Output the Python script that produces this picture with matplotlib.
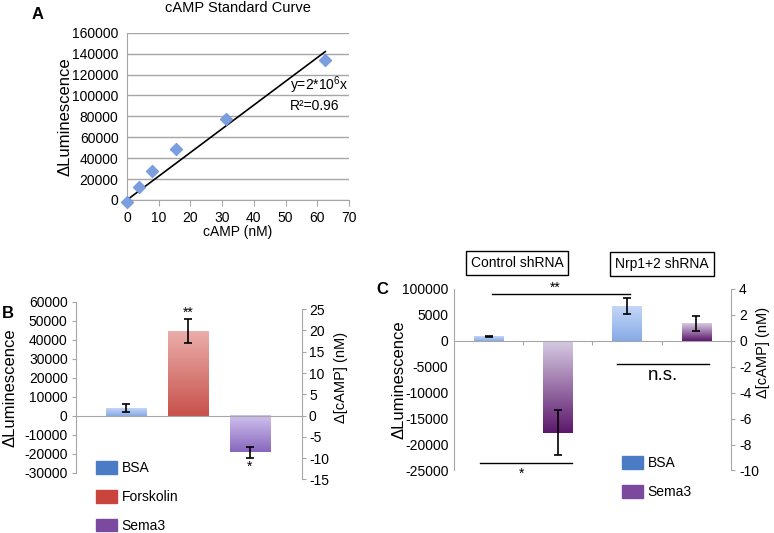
import numpy as np
import matplotlib
matplotlib.use('Agg')
import matplotlib.pyplot as plt
from matplotlib.colors import LinearSegmentedColormap
from matplotlib.patches import Patch

plt.rcParams['font.family'] = 'Liberation Sans'
plt.rcParams['mathtext.fontset'] = 'custom'
plt.rcParams['mathtext.rm'] = 'Liberation Sans'
plt.rcParams['axes.unicode_minus'] = False

# --- panel A: standard curve
std_conc = [0, 3.9, 7.8, 15.6, 31.25, 62.5]
std_lum = [-1500, 12000, 28000, 49000, 77500, 134000]
fit_slope = 2270
a_xticks = [0, 10, 20, 30, 40, 50, 60, 70]
a_yticks = [0, 20000, 40000, 60000, 80000, 100000, 120000, 140000, 160000]

# --- panel B
b_labels = ['BSA', 'Forskolin', 'Sema3']
b_means = [4000, 44600, -19300]
b_errs = [2000, 6300, 3000]
b_stars = ['', '**', '*']
b_left_ticks = [-30000, -20000, -10000, 0, 10000, 20000, 30000, 40000, 50000, 60000]
b_right_ticks = [-15, -10, -5, 0, 5, 10, 15, 20, 25]

# --- panel C
c_groups = ['Control shRNA', 'Nrp1+2 shRNA']
c_treat = ['BSA', 'Sema3', 'BSA', 'Sema3']
c_means = [900, -17700, 6700, 3400]
c_errs = [120, 4350, 1600, 1450]
c_left_ticks = [-25000, -20000, -15000, -10000, -5000, 0, 5000, 10000]
c_left_labels = ['-25000', '-20000', '-15000', '-10000', '-5000', '0', '5000', '100000']
c_right_ticks = [-10, -8, -6, -4, -2, 0, 2, 4]

GRAY = '#a6a6a6'
grads = {
    'BSA': ('#c3d7f6', '#86aae6'),
    'Forskolin': ('#eaaeab', '#c8514b'),
    'Sema3B': ('#d0c2ee', '#8867bd'),
    'Sema3C': ('#d6cbe2', '#5c176c'),
}
legend_cols = {'BSA': '#4a7bc4', 'Forskolin': '#c9443c', 'Sema3': '#7b4a9e'}


def gradient_bars(ax, bars, keys):
    for rect, key in zip(bars, keys):
        top, bottom = grads[key]
        x, y, w, h = rect.get_x(), rect.get_y(), rect.get_width(), rect.get_height()
        cmap = LinearSegmentedColormap.from_list('g', [bottom, top])
        grad = np.linspace(0, 1, 256).reshape(-1, 1)
        ax.imshow(grad, extent=[x, x + w, min(y, y + h), max(y, y + h)],
                  origin='lower', cmap=cmap, aspect='auto', zorder=1)
        rect.set_visible(False)


fig = plt.figure(figsize=(7.74, 5.33), dpi=100)

# ================= A =================
axA = fig.add_axes([0.164, 0.6248, 0.287, 0.3139])
axA.scatter(std_conc, std_lum, marker='D', s=42, color='#7b9ede',
            edgecolor='#6d91d8', linewidth=0.5, zorder=3, clip_on=False)
xfit = np.array([0, std_conc[-1]])
axA.plot(xfit, fit_slope * xfit, color='black', lw=1.2, zorder=2)
axA.set_xlim(0, 70)
axA.set_ylim(0, 160000)
axA.set_xticks(a_xticks)
axA.set_yticks(a_yticks)
axA.yaxis.grid(True, color=GRAY, lw=1)
axA.set_axisbelow(True)
for s in ['top', 'right']:
    axA.spines[s].set_visible(False)
for s in ['left', 'bottom']:
    axA.spines[s].set_color(GRAY)
axA.tick_params(axis='x', length=4, color=GRAY, labelsize=10, pad=4)
axA.tick_params(axis='y', length=0, labelsize=10, pad=6)
axA.set_xlabel('cAMP (nM)', fontsize=10, labelpad=0)
axA.set_ylabel('ΔLuminescence', fontsize=12)
axA.yaxis.set_label_coords(-0.243, 0.5)
axA.set_title('cAMP Standard Curve', fontsize=10.5, pad=15)
axA.text(0.995, 0.685, r'y=2*10$^{\mathregular{6}}$x', transform=axA.transAxes,
         ha='right', va='center', fontsize=10)
axA.text(0.955, 0.56, 'R²=0.96', transform=axA.transAxes,
         ha='right', va='center', fontsize=10)
fig.text(0.049, 0.972, 'A', fontsize=12, fontweight='bold', ha='center', va='center')

# ================= B =================
axB = fig.add_axes([0.0982, 0.1131, 0.292, 0.3208])
xb = np.arange(len(b_labels))
barsB = axB.bar(xb, b_means, width=0.65)
gradient_bars(axB, barsB, ['BSA', 'Forskolin', 'Sema3B'])
axB.errorbar(xb, b_means, yerr=b_errs, fmt='none', ecolor='black',
             elinewidth=1.2, capsize=3, capthick=1.2, zorder=4)
for xi, m, e, st in zip(xb, b_means, b_errs, b_stars):
    if st:
        yy = m + e + 3500 if m > 0 else m - e - 4500
        axB.text(xi, yy, st, ha='center', va='center', fontsize=10)
axB.set_xlim(-0.81, 2.84)
axB.set_ylim(-30000, 60000)
axB.set_yticks(b_left_ticks)
axB.set_xticks([])
axB.spines['top'].set_visible(False)
axB.spines['right'].set_visible(False)
axB.spines['left'].set_color(GRAY)
axB.spines['bottom'].set_position(('data', 0))
axB.spines['bottom'].set_color(GRAY)
axB.tick_params(axis='y', length=3, color=GRAY, labelsize=10, pad=3)
axB.set_ylabel('ΔLuminescence', fontsize=12)
axB.yaxis.set_label_coords(-0.257, 0.5)
axB.set_facecolor('none')

axB2 = fig.add_axes([0.0982, 0.1008, 0.292, 0.319])
axB2.set_ylim(-15, 25)
axB2.set_yticks(b_right_ticks)
axB2.set_xticks([])
axB2.yaxis.tick_right()
axB2.yaxis.set_label_position('right')
for s in ['top', 'left', 'bottom']:
    axB2.spines[s].set_visible(False)
axB2.spines['right'].set_color(GRAY)
axB2.tick_params(axis='y', length=3, color=GRAY, labelsize=10, pad=2)
axB2.set_ylabel('Δ[cAMP] (nM)', fontsize=10.5)
axB2.yaxis.set_label_coords(1.142, 0.599)
axB2.patch.set_visible(False)

axB.legend(handles=[Patch(color=legend_cols[k], label=k) for k in b_labels],
           loc='upper left', bbox_to_anchor=(96 / 774, 1 - 461 / 533),
           bbox_transform=fig.transFigure, frameon=False, fontsize=10,
           handlelength=1.5, handleheight=1.05, handletextpad=0.35,
           labelspacing=1.05, borderpad=0, borderaxespad=0)
fig.text(0.01, 1 - 313 / 533, 'B', fontsize=12, fontweight='bold', ha='center', va='center')

# ================= C =================
axC = fig.add_axes([0.5866, 0.1173, 0.3575, 0.3405])
xc = np.arange(len(c_treat))
barsC = axC.bar(xc, c_means, width=0.42)
gradient_bars(axC, barsC, ['BSA', 'Sema3C', 'BSA', 'Sema3C'])
axC.errorbar(xc, c_means, yerr=c_errs, fmt='none', ecolor='black',
             elinewidth=1.2, capsize=3, capthick=1.2, zorder=4)
axC.set_xlim(-0.5, 3.5)
axC.set_ylim(-25000, 10000)
axC.set_yticks(c_left_ticks)
axC.set_yticklabels(c_left_labels)
axC.set_xticks([0.5, 1.5, 2.5])
axC.set_xticklabels([])
axC.spines['top'].set_visible(False)
axC.spines['right'].set_visible(False)
axC.spines['left'].set_color(GRAY)
axC.spines['bottom'].set_position(('data', 0))
axC.spines['bottom'].set_color(GRAY)
axC.tick_params(axis='x', length=3, color=GRAY)
axC.tick_params(axis='y', length=0, labelsize=10, pad=4)
axC.set_ylabel('ΔLuminescence', fontsize=12)
axC.yaxis.set_label_coords(-0.173, 0.5)

axC2 = axC.twinx()
axC2.set_ylim(-10, 4)
axC2.set_yticks(c_right_ticks)
for s in ['top', 'left', 'bottom']:
    axC2.spines[s].set_visible(False)
axC2.spines['right'].set_color(GRAY)
axC2.tick_params(axis='y', length=3, color=GRAY, labelsize=10, pad=3)
axC2.set_ylabel('Δ[cAMP] (nM)', fontsize=10.5)
axC2.yaxis.set_label_coords(1.092, 0.653)

# significance annotations
axC.plot([0.05, 2.04], [9000, 9000], color='black', lw=1, clip_on=False)
axC.text(0.96, 10300, '**', ha='center', va='center', fontsize=10)
axC.plot([1.86, 3.18], [-4370, -4370], color='black', lw=1, clip_on=False)
axC.text(2.52, -6700, 'n.s.', ha='center', va='center', fontsize=13.5)
axC.plot([-0.12, 1.2], [-23600, -23600], color='black', lw=1, clip_on=False)
axC.text(0.47, -25600, '*', ha='center', va='center', fontsize=10, clip_on=False)

box = dict(boxstyle='square,pad=0.35', facecolor='white', edgecolor='black', lw=1)
fig.text(517 / 774, 1 - 263 / 533, c_groups[0], ha='center', va='center', fontsize=10, bbox=box)
fig.text(662 / 774, 1 - 264 / 533, c_groups[1], ha='center', va='center', fontsize=10, bbox=box)

axC.legend(handles=[Patch(color=legend_cols[k], label=k) for k in ['BSA', 'Sema3']],
           loc='upper left', bbox_to_anchor=(622 / 774, 1 - 456 / 533),
           bbox_transform=fig.transFigure, frameon=False, fontsize=10,
           handlelength=1.5, handleheight=1.05, handletextpad=0.35,
           labelspacing=1.05, borderpad=0, borderaxespad=0)
fig.text(382 / 774, 1 - 290 / 533, 'C', fontsize=12, fontweight='bold', ha='center', va='center')

fig.savefig('out.png', dpi=100)
